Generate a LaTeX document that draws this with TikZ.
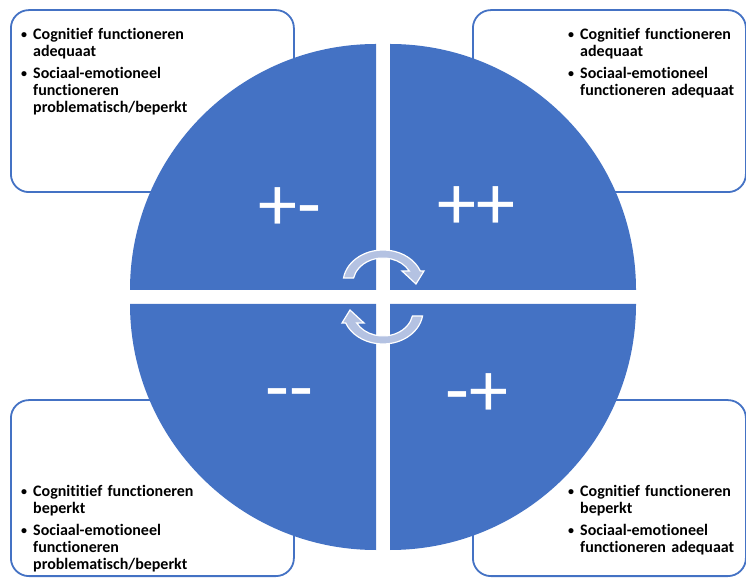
\documentclass[tikz,border=0pt]{standalone}
\usepackage{fontspec}
\setmainfont{Carlito}[Ligatures={TeX,NoCommon}]
\definecolor{qblue}{HTML}{4472C4}
\definecolor{arrowfill}{HTML}{B4C2E2}
\hyphenpenalty=10000
\exhyphenpenalty=10000
\newcommand\bitem{\par\hangindent=14pt\hangafter=1\noindent\makebox[14pt][l]{\hspace{2pt}\raisebox{0.6pt}{\fontsize{12}{12}\selectfont\textbullet}}}
\begin{document}
\begin{tikzpicture}[x=1pt,y=1pt,
  box/.style={draw=qblue, line width=1.8pt, rounded corners=18pt, fill=white, inner sep=0pt, anchor=south west},
  quarter/.style={fill=qblue},
  sign/.style={text=white, font=\fontsize{78}{80}\selectfont, inner sep=0pt, anchor=base west},
  info/.style={text width=189pt, align=left, inner sep=0pt, anchor=north west, font=\bfseries\fontsize{16}{17}\selectfont},
  cyc/.style={fill=arrowfill, draw=white, line width=1.2pt, line join=miter}]
\useasboundingbox (0,0) rectangle (746,578);
% boxes
\node[box, minimum width=283pt, minimum height=182pt] (tlbox) at (10,385) {};
\node[box, minimum width=273pt, minimum height=182pt] (trbox) at (472,385) {};
\node[box, minimum width=283pt, minimum height=176pt] (blbox) at (10,1) {};
\node[box, minimum width=273pt, minimum height=176pt] (brbox) at (472,1) {};
% texts
\node[info] (tltext) at (19,556) {\bitem\rule{0pt}{13pt}Cognitief functioneren adequaat\par\vspace{5pt}\bitem Sociaal-emotioneel functioneren problematisch/beperkt\par};
\node[info] (trtext) at (566,556) {\bitem\rule{0pt}{13pt}Cognitief functioneren adequaat\par\vspace{5pt}\bitem Sociaal-emotioneel functioneren adequaat\par};
\node[info] (bltext) at (19,99) {\bitem\rule{0pt}{13pt}Cognititief functioneren beperkt\par\vspace{5pt}\bitem Sociaal-emotioneel functioneren problematisch/beperkt\par};
\node[info] (brtext) at (566,99) {\bitem\rule{0pt}{13pt}Cognitief functioneren beperkt\par\vspace{5pt}\bitem Sociaal-emotioneel functioneren adequaat\par};
% quarters
\fill[quarter] (376,288) -- (130,288) arc[start angle=180,end angle=90,radius=246pt] -- cycle;
\fill[quarter] (390,288) -- (390,534) arc[start angle=90,end angle=0,radius=246pt] -- cycle;
\fill[quarter] (376,274) -- (376,28) arc[start angle=270,end angle=180,radius=246pt] -- cycle;
\fill[quarter] (390,274) -- (636,274) arc[start angle=0,end angle=-90,radius=246pt] -- cycle;
% circular arrows
\begin{scope}[shift={(383,295)}]
\path[cyc] (-39.5,5) arc[start angle=171.3,end angle=21.3,x radius=40pt,y radius=33pt] -- (41,12) -- (33,-1) -- (19,12) -- (26.3,12) arc[start angle=28.7,end angle=168.5,x radius=30pt,y radius=25pt] -- cycle;
\end{scope}
\begin{scope}[shift={(383,267)}]
\path[cyc] (39.5,-5) arc[start angle=351.3,end angle=201.3,x radius=40pt,y radius=33pt] -- (-41,-12) -- (-33,1) -- (-19,-12) -- (-26.3,-12) arc[start angle=208.7,end angle=348.5,x radius=30pt,y radius=25pt] -- cycle;
\end{scope}
% signs
\node[sign] (pm) at (258,347) {+-};
\node[sign] (pp) at (437,348) {++};
\node[sign] (mm) at (265,164) {-{}-};
\node[sign] (mp) at (445,161) {-+};
\end{tikzpicture}
\end{document}
